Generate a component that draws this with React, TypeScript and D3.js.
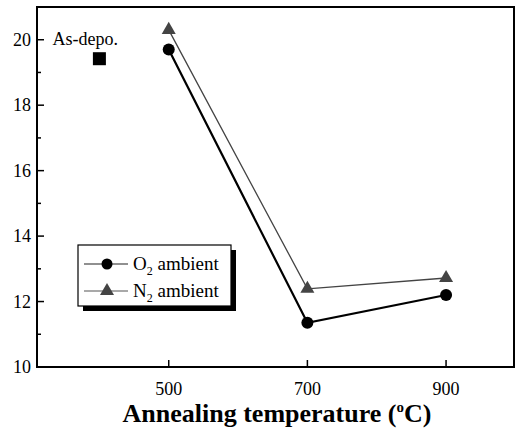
import { useEffect, useRef } from "react";
import * as d3 from "d3";

const temps = [500, 700, 900];
const o2Values = [19.7, 11.35, 12.2];
const n2Values = [20.3, 12.39, 12.72];
const asDepoTemp = 400;
const asDepoValue = 19.42;
const xTicks = [500, 700, 900];
const yTicks = [10, 12, 14, 16, 18, 20];
const yMinorTicks = [11, 13, 15, 17, 19];

function App() {
  const ref = useRef<SVGSVGElement>(null);

  useEffect(() => {
    const svg = d3.select(ref.current);
    svg.selectAll("*").remove();
    const width = 516;
    const height = 436;
    const margin = { top: 7, right: 2, bottom: 69, left: 37 };
    const innerWidth = width - margin.left - margin.right;
    const innerHeight = height - margin.top - margin.bottom;

    const x = d3.scaleLinear().domain([310, 998]).range([0, innerWidth]);
    const y = d3.scaleLinear().domain([10, 21]).range([innerHeight, 0]);

    const g = svg
      .append("g")
      .attr("transform", `translate(${margin.left},${margin.top})`);

    const font = "Liberation Serif, serif";

    // frame
    g.append("rect")
      .attr("width", innerWidth)
      .attr("height", innerHeight)
      .attr("fill", "none")
      .attr("stroke", "#000")
      .attr("stroke-width", 2);

    // y ticks, inward
    g.selectAll(".ymaj")
      .data(yTicks)
      .enter()
      .append("line")
      .attr("x1", 0)
      .attr("x2", 7)
      .attr("y1", (d) => y(d))
      .attr("y2", (d) => y(d))
      .attr("stroke", "#000")
      .attr("stroke-width", 1.5);
    g.selectAll(".ymin")
      .data(yMinorTicks)
      .enter()
      .append("line")
      .attr("x1", 0)
      .attr("x2", 4)
      .attr("y1", (d) => y(d))
      .attr("y2", (d) => y(d))
      .attr("stroke", "#000")
      .attr("stroke-width", 1.5);
    g.selectAll(".ylab")
      .data(yTicks)
      .enter()
      .append("text")
      .attr("x", -6)
      .attr("y", (d) => y(d) + 6)
      .attr("text-anchor", "end")
      .attr("font-family", font)
      .attr("font-size", 18)
      .text((d) => d);

    // x ticks
    g.selectAll(".xmaj")
      .data(xTicks)
      .enter()
      .append("line")
      .attr("x1", (d) => x(d))
      .attr("x2", (d) => x(d))
      .attr("y1", innerHeight)
      .attr("y2", innerHeight - 7)
      .attr("stroke", "#000")
      .attr("stroke-width", 1.5);
    g.selectAll(".xlab")
      .data(xTicks)
      .enter()
      .append("text")
      .attr("x", (d) => x(d))
      .attr("y", innerHeight + 28)
      .attr("text-anchor", "middle")
      .attr("font-family", font)
      .attr("font-size", 18)
      .text((d) => d);

    // x axis title
    const title = svg
      .append("text")
      .attr("x", 277)
      .attr("y", 422)
      .attr("text-anchor", "middle")
      .attr("font-family", font)
      .attr("font-size", 26)
      .attr("font-weight", "bold");
    title.append("tspan").text("Annealing temperature (");
    title.append("tspan").attr("font-size", 15).attr("dy", -10).text("o");
    title.append("tspan").attr("dy", 10).text("C)");

    const line = d3
      .line<number>()
      .x((_, i) => x(temps[i]))
      .y((d) => y(d));

    // N2 series
    g.append("path")
      .datum(n2Values)
      .attr("d", line)
      .attr("fill", "none")
      .attr("stroke", "#444")
      .attr("stroke-width", 1.3);
    const tri = d3.symbol().type(d3.symbolTriangle).size(85);
    g.selectAll(".n2")
      .data(n2Values)
      .enter()
      .append("path")
      .attr("d", tri)
      .attr("transform", (d, i) => `translate(${x(temps[i])},${y(d)})`)
      .attr("fill", "#444");

    // O2 series
    g.append("path")
      .datum(o2Values)
      .attr("d", line)
      .attr("fill", "none")
      .attr("stroke", "#000")
      .attr("stroke-width", 2.2);
    g.selectAll(".o2")
      .data(o2Values)
      .enter()
      .append("circle")
      .attr("cx", (d, i) => x(temps[i]))
      .attr("cy", (d) => y(d))
      .attr("r", 6)
      .attr("fill", "#000");

    // As-deposited point
    g.append("rect")
      .attr("x", x(asDepoTemp) - 6.5)
      .attr("y", y(asDepoValue) - 6.5)
      .attr("width", 13)
      .attr("height", 13)
      .attr("fill", "#000");
    g.append("text")
      .attr("x", x(asDepoTemp) - 47)
      .attr("y", y(asDepoValue) - 14)
      .attr("font-family", font)
      .attr("font-size", 18)
      .text("As-depo.");

    // legend
    const lx = 78;
    const ly = 245;
    const lw = 153;
    const lh = 61;
    svg
      .append("rect")
      .attr("x", lx + 5)
      .attr("y", ly + 5)
      .attr("width", lw)
      .attr("height", lh)
      .attr("fill", "#000");
    svg
      .append("rect")
      .attr("x", lx)
      .attr("y", ly)
      .attr("width", lw)
      .attr("height", lh)
      .attr("fill", "#fff")
      .attr("stroke", "#000")
      .attr("stroke-width", 1.2);

    const items = [
      { sub: "2", name: "O", kind: "circle", row: 19 },
      { sub: "2", name: "N", kind: "tri", row: 46 },
    ];
    items.forEach((it) => {
      const cy = ly + it.row;
      svg
        .append("line")
        .attr("x1", lx + 6)
        .attr("x2", lx + 50)
        .attr("y1", cy)
        .attr("y2", cy)
        .attr("stroke", it.kind === "circle" ? "#222" : "#555")
        .attr("stroke-width", 1.2);
      if (it.kind === "circle") {
        svg
          .append("circle")
          .attr("cx", lx + 29)
          .attr("cy", cy)
          .attr("r", 5.5)
          .attr("fill", "#000");
      } else {
        svg
          .append("path")
          .attr("d", tri)
          .attr("transform", `translate(${lx + 29},${cy})`)
          .attr("fill", "#444");
      }
      const t = svg
        .append("text")
        .attr("x", lx + 55)
        .attr("y", cy + 6)
        .attr("font-family", font)
        .attr("font-size", 19);
      t.append("tspan").text(it.name);
      t.append("tspan").attr("font-size", 12).attr("dy", 5).text(it.sub);
      t.append("tspan").attr("dy", -5).text(" ambient");
    });
  }, []);

  return (
    <svg
      ref={ref}
      width={516}
      height={436}
      style={{ position: "absolute", left: 0, top: 0, background: "#fff" }}
    ></svg>
  );
}

export default App;
